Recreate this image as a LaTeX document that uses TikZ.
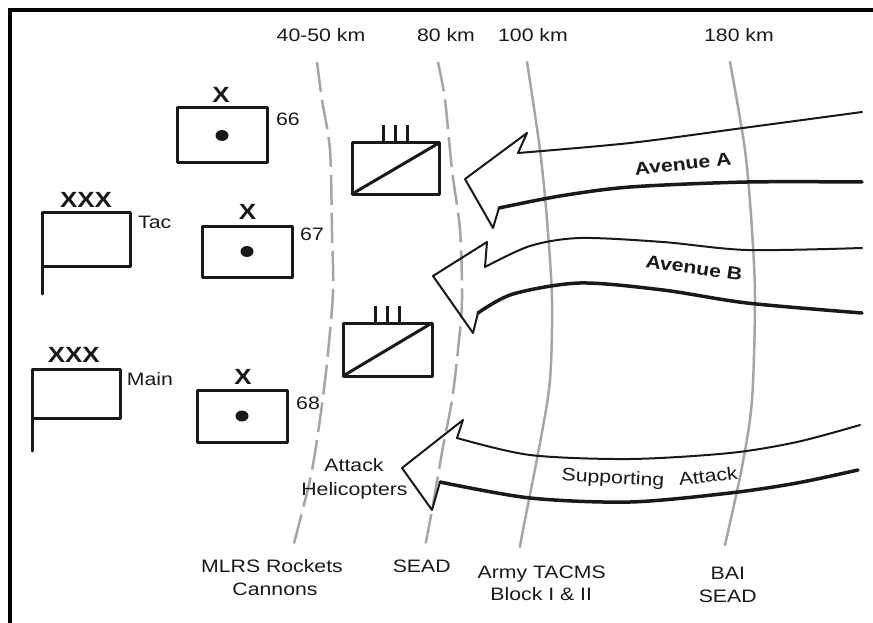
\documentclass[tikz,border=0pt]{standalone}
\usepackage{fontspec}
\setmainfont{Liberation Sans}[FakeStretch=1.18]
\definecolor{rangegray}{RGB}{165,165,165}
\definecolor{inkc}{RGB}{25,25,25}
\begin{document}
\begin{tikzpicture}[x=1pt,y=-1pt, line cap=round, line join=round,
  unitbox/.style={draw=inkc, line width=3pt, minimum width=90pt, minimum height=53pt, inner sep=0pt, outer sep=0pt},
  flagbox/.style={draw=inkc, line width=3pt, minimum width=88pt, inner sep=0pt, outer sep=0pt},
  armorbox/.style={draw=inkc, line width=3pt, minimum width=88pt, minimum height=52pt, inner sep=0pt, outer sep=0pt},
  lbl/.style={font=\fontsize{18}{21}\selectfont, inner sep=0pt, anchor=base, text=inkc, align=center},
  echelon/.style={font=\fontsize{22}{24}\selectfont\bfseries, inner sep=0pt, anchor=base, text=inkc},
  avenue/.style={font=\fontsize{18}{21}\selectfont\bfseries, inner sep=0pt, text=inkc},
  rangeline/.style={draw=rangegray, line width=2.5pt},
  rangedash/.style={draw=rangegray, line width=2.5pt, dash pattern=on 30pt off 8pt, line cap=butt},
  arrowthin/.style={draw=inkc, line width=2pt},
  arrowthick/.style={draw=inkc, line width=3.5pt},
  ech/.style={draw=inkc, line width=3pt}
]
\useasboundingbox (0,0) rectangle (873,623);
% frame
\coordinate (fb) at (9.5,623);
\coordinate (fc) at (9.5,10.5);
\coordinate (fr) at (873,10.5);
\draw[line width=4pt, line cap=butt, line join=miter] (fb) -- (fc) -- (fr);

% range lines
\draw[rangedash] plot[smooth] coordinates {(317,62) (322,100) (330,150) (332,233) (333,293) (326,372) (318,433) (310,480) (293,547)};
\draw[rangedash] plot[smooth] coordinates {(438,62) (445,100) (452,170) (460,230) (462,300) (458,350) (452,400) (443,447) (432,510) (425,547)};
\draw[rangeline] plot[smooth] coordinates {(527,62) (540,150) (547,220) (552,300) (550,380) (540,443) (523,530) (520,547)};
\draw[rangeline] plot[smooth] coordinates {(730,62) (745,150) (752,230) (755,300) (752,400) (742,467) (725,545)};

% range labels
\node[lbl] (r40) at (321,42) {40-50 km};
\node[lbl] (r80) at (446,42) {80 km};
\node[lbl] (r100) at (533,42) {100 km};
\node[lbl] (r180) at (739,42) {180 km};

\node[lbl] (w1) at (272,572.7) {MLRS Rockets};
\node[lbl] (w1b) at (275,595.7) {Cannons};
\node[lbl] (w2) at (421.7,572.7) {SEAD};
\node[lbl] (w3) at (541.7,578.3) {Army TACMS};
\node[lbl] (w3b) at (541.2,600) {Block I \& II};
\node[lbl] (w4) at (727.8,579.3) {BAI};
\node[lbl] (w4b) at (727.7,602) {SEAD};

% corps flags
\node[flagbox, minimum height=54pt] (tac) at (86,239) {};
\coordinate (tacpole) at (42,294);
\draw[ech] (tac.south west) -- (tacpole);
\node[echelon] (tacx) at (86,207.3) {XXX};
\node[lbl] (tacl) at (154.7,228) {Tac};

\node[flagbox, minimum height=49pt] (main) at (76,393.5) {};
\coordinate (mainpole) at (32,451);
\draw[ech] (main.south west) -- (mainpole);
\node[echelon] (mainx) at (73.8,362.3) {XXX};
\node[lbl] (mainl) at (150,385.7) {Main};

% brigades
\node[unitbox, minimum height=55pt] (b66) at (222,135.5) {};
\fill[inkc] (b66.center) ellipse [x radius=6.5pt, y radius=5.5pt];
\node[echelon] (b66x) at (221,102.7) {X};
\node[lbl] (b66l) at (288,125.7) {66};

\node[unitbox, minimum height=51pt] (b67) at (247,251.5) {};
\fill[inkc] (b67.center) ellipse [x radius=6.5pt, y radius=5.5pt];
\node[echelon] (b67x) at (247.5,219) {X};
\node[lbl] (b67l) at (312,240.7) {67};

\node[unitbox, minimum height=52pt] (b68) at (242,416) {};
\fill[inkc] (b68.center) ellipse [x radius=6.5pt, y radius=5.5pt];
\node[echelon] (b68x) at (243,384) {X};
\node[lbl] (b68l) at (308,409) {68};

% armored regiments
\node[armorbox, minimum width=87pt, minimum height=51pt] (ar1) at (395.5,168.5) {};
\draw[ech] (ar1.south west) -- (ar1.north east);
\foreach \dx in {-12,0,12} \draw[ech, line cap=butt] ([xshift=\dx pt]ar1.north) -- ++(0,-18);

\node[armorbox, minimum width=89pt, minimum height=53pt] (ar2) at (387.5,349.5) {};
\draw[ech] (ar2.south west) -- (ar2.north east);
\foreach \dx in {-12,0,12} \draw[ech, line cap=butt] ([xshift=\dx pt]ar2.north) -- ++(0,-17);

% Avenue A
\draw[arrowthin] plot[smooth] coordinates {(862,112) (743,128) (630,143) (518,153)} -- (527,133) -- (465,179) -- (493,228) -- (499,208);
\draw[arrowthick] plot[smooth] coordinates {(499,208) (560,196) (630,187) (747,182) (862,182)};
\node[avenue, rotate=6] (avA) at (683,164) {Avenue A};

% Avenue B
\draw[arrowthin] plot[smooth] coordinates {(862,248) (747,250) (663,242) (580,238) (530,246) (485,267)} -- (487,242) -- (433,276) -- (473,333) -- (478,313);
\draw[arrowthick] plot[smooth] coordinates {(478,313) (513,294) (580,283) (663,290) (747,303) (862,313)};
\node[avenue, rotate=-8] (avB) at (694,268) {Avenue B};

% Supporting attack
\draw[arrowthin] plot[smooth] coordinates {(860,425) (797,442) (730,453) (630,459) (530,455) (457,438)} -- (463,420) -- (402,468) -- (432,510) -- (440,482);
\draw[arrowthick] plot[smooth] coordinates {(440,482) (530,498) (630,502) (730,493) (797,483) (858,470)};
\node[lbl, anchor=center, rotate=-3] (sa1) at (613,479) {Supporting};
\node[lbl, anchor=center, rotate=7] (sa2) at (708,476) {Attack};

\node[lbl] (ah1) at (354,471.7) {Attack};
\node[lbl] (ah2) at (354.5,495) {Helicopters};
\end{tikzpicture}
\end{document}
